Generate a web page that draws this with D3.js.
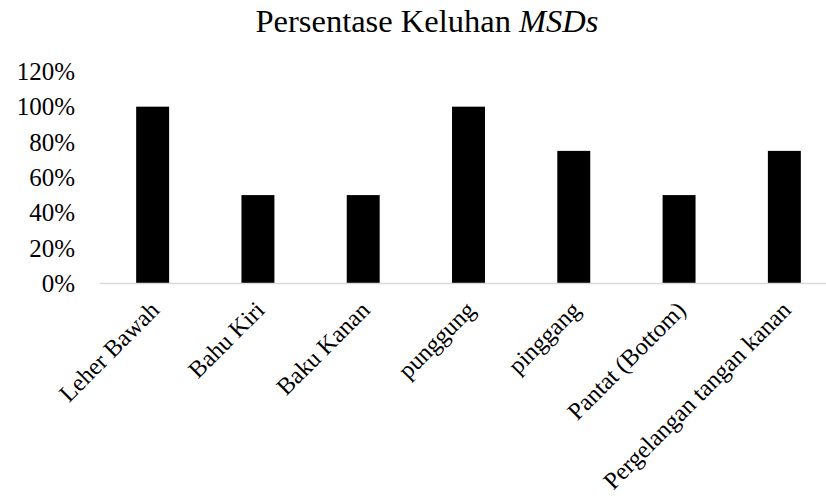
<!DOCTYPE html>
<html><head><meta charset="utf-8">
<script src="https://cdn.jsdelivr.net/npm/d3@7"></script>
<style>body{margin:0;background:#fff;} svg{display:block;} svg text{font-family:"Liberation Serif","Times New Roman",serif;}</style>
</head><body>
<svg id="chart" width="826" height="499"></svg>
<script>
const categories = ["Leher Bawah","Bahu Kiri","Baku Kanan","punggung","pinggang","Pantat (Bottom)","Pergelangan tangan kanan"];
const values = [1.00, 0.50, 0.50, 1.00, 0.75, 0.50, 0.75];
const yTicks = [0, 0.2, 0.4, 0.6, 0.8, 1.0, 1.2];

const svg = d3.select("#chart");
const font = '"Liberation Serif", "Times New Roman", serif';

const x = d3.scaleBand().domain(categories).range([100, 837]).paddingInner(0.687).paddingOuter(0.3435);
const y = d3.scaleLinear().domain([0, 1.2]).range([283.5, 71.3]);

// title
const title = svg.append("text").attr("x", 427).attr("y", 32)
  .attr("text-anchor", "middle").style("font-family", font).style("font-size", "32.5px").attr("fill", "#000");
title.append("tspan").text("Persentase Keluhan ");
title.append("tspan").style("font-style", "italic").text("MSDs");

// y axis (labels only)
const yAxis = d3.axisLeft(y).tickValues(yTicks).tickFormat(d3.format(".0%")).tickSize(0).tickPadding(0);
const gy = svg.append("g").attr("transform", "translate(75,0)").call(yAxis);
gy.attr("font-family", null);
gy.select(".domain").remove();
gy.selectAll("text").style("font-family", font).style("font-size", "25px").attr("fill", "#000");

// bars
svg.append("g").selectAll("rect").data(categories).join("rect")
  .attr("x", d => x(d)).attr("width", x.bandwidth())
  .attr("y", (d, i) => y(values[i])).attr("height", (d, i) => y(0) - y(values[i]))
  .attr("fill", "#000");

// x axis
const xAxis = d3.axisBottom(x).tickSize(0).tickPadding(0);
const gx = svg.append("g").attr("transform", `translate(0,${y(0)})`).call(xAxis);
gx.attr("font-family", null);
gx.select(".domain").attr("stroke", "#d9d9d9").attr("stroke-width", 1.5).attr("d", `M100,0H826`);
gx.selectAll("text")
  .style("font-family", font).style("font-size", "24.2px").attr("fill", "#000")
  .attr("text-anchor", "end")
  .attr("transform", "translate(2,22) rotate(-45)")
  .attr("dy", "0.35em").attr("y", 0);
</script>
</body></html>
